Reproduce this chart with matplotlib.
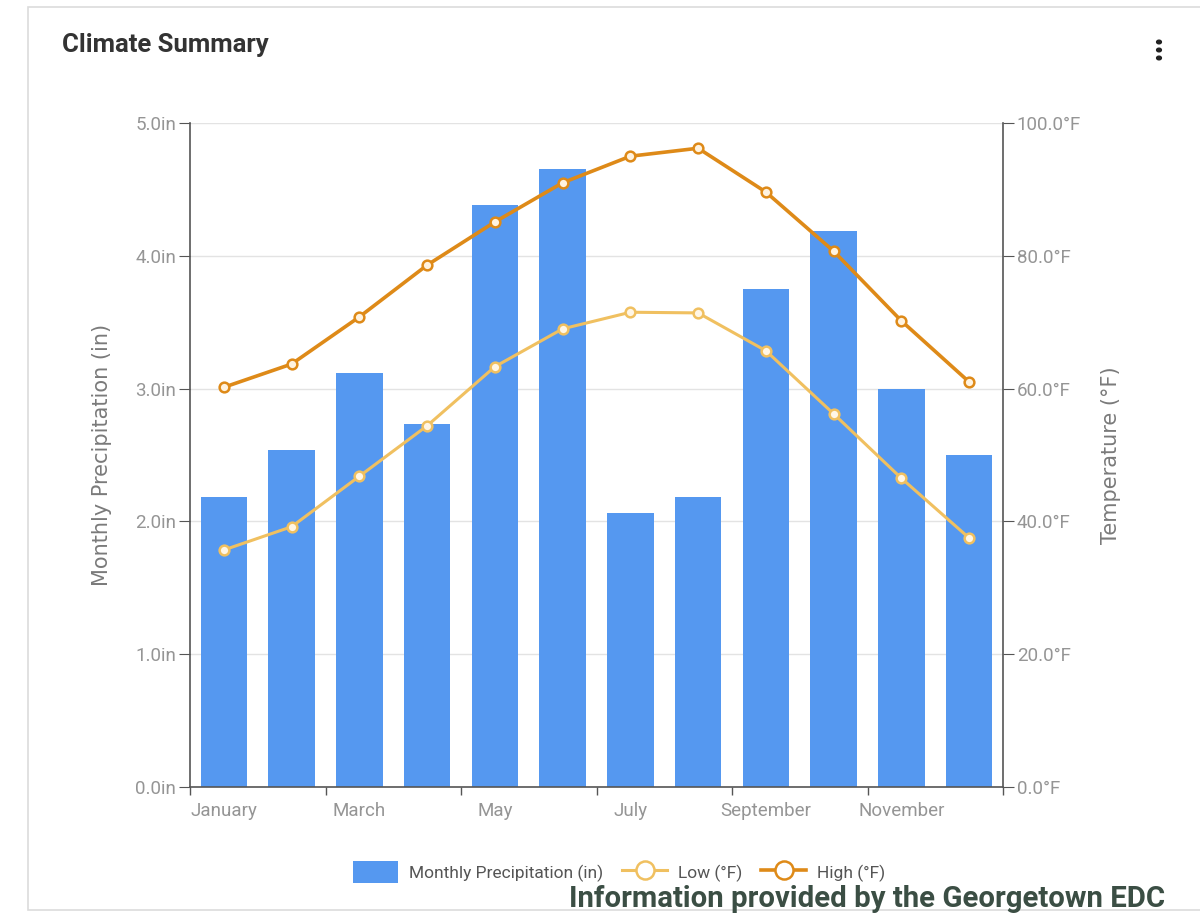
import matplotlib
matplotlib.use("Agg")
import matplotlib.pyplot as plt
from matplotlib.patches import Rectangle, Circle, Patch
from matplotlib.lines import Line2D
from matplotlib.font_manager import FontProperties
import numpy as np

months = ["January", "February", "March", "April", "May", "June", "July",
          "August", "September", "October", "November", "December"]
precip = [2.18, 2.54, 3.12, 2.73, 4.38, 4.65, 2.06, 2.18, 3.75, 4.19, 3.00, 2.50]
high_f = [60.2, 63.7, 70.8, 78.6, 85.1, 91.0, 95.0, 96.2, 89.6, 80.7, 70.2, 61.0]
low_f = [35.7, 39.2, 46.8, 54.4, 63.3, 69.0, 71.5, 71.4, 65.7, 56.2, 46.5, 37.5]
precip_ticks = [0.0, 1.0, 2.0, 3.0, 4.0, 5.0]
temp_ticks = [0.0, 20.0, 40.0, 60.0, 80.0, 100.0]

plt.rcParams['font.family'] = ['Roboto', 'DejaVu Sans']

W, H = 1200, 915
fig = plt.figure(figsize=(W / 100, H / 100), dpi=100)

# card border
fig.add_artist(Rectangle((28 / W, 1 - 910 / H), (1210 - 28) / W, (910 - 7) / H,
                         transform=fig.transFigure, facecolor='white',
                         edgecolor='#dcdcdc', linewidth=1.2, zorder=0))

ax = fig.add_axes([190 / W, 1 - 787 / H, (1003 - 190) / W, (787 - 123) / H])
ax.set_zorder(2)
x = np.arange(len(months))
ax.bar(x, precip, width=0.69, color='#5598F0', zorder=2)
ax.set_xlim(-0.5, len(months) - 0.5)
ax.set_ylim(0, 5)
ax.set_yticks(precip_ticks)
ax.set_yticklabels([f"{v:.1f}in" for v in precip_ticks])
ax.yaxis.grid(True, color='#e3e3e3', linewidth=1, zorder=0)
ax.set_axisbelow(True)

tick_fp = FontProperties(family=['Roboto', 'DejaVu Sans'], size=13.5)
tick_col = '#959595'

# x ticks at boundaries, labels every other month
ax.set_xticks(np.arange(-0.5, len(months), 2))
ax.set_xticklabels([])
ax.set_xticks(x[::2], minor=True)
ax.set_xticklabels(months[::2], minor=True)
for lbl in ax.get_xticklabels(minor=True):
    lbl.set_fontproperties(tick_fp)
ax.tick_params(axis='x', which='major', length=6, color='#555555', width=1)
ax.tick_params(axis='x', which='minor', length=0, pad=11, labelcolor=tick_col)
ax.tick_params(axis='y', length=8, color='#555555', labelcolor=tick_col, pad=2)
for lbl in ax.get_yticklabels():
    lbl.set_fontproperties(tick_fp)

for s in ['top', 'right']:
    ax.spines[s].set_visible(False)
for s in ['left', 'bottom']:
    ax.spines[s].set_color('#555555')
    ax.spines[s].set_linewidth(1.2)

ax.set_ylabel("Monthly Precipitation (in)", fontsize=15, color='#7a7a7a', labelpad=17,
              family=['DejaVu Sans'])

ax2 = ax.twinx()
ax2.set_zorder(3)
ax2.set_ylim(0, 100)
ax2.set_yticks(temp_ticks)
ax2.set_yticklabels([f"{v:.1f}°F" for v in temp_ticks])
ax2.tick_params(axis='y', length=8, color='#555555', labelcolor=tick_col, pad=2)
for lbl in ax2.get_yticklabels():
    lbl.set_fontproperties(tick_fp)
for s in ['top', 'left', 'bottom']:
    ax2.spines[s].set_visible(False)
ax2.spines['right'].set_color('#555555')
ax2.spines['right'].set_linewidth(1.2)
ax2.set_ylabel("Temperature (°F)", fontsize=15, color='#7a7a7a', labelpad=14,
               family=['DejaVu Sans'])

low_c = '#F0C060'
high_c = '#DE8A18'
ax2.plot(x, low_f, color=low_c, linewidth=2.2, marker='o', markersize=7,
         markerfacecolor='#fff6e6', markeredgecolor=low_c, markeredgewidth=1.8)
ax2.plot(x, high_f, color=high_c, linewidth=2.6, marker='o', markersize=7,
         markerfacecolor='#fff3e0', markeredgecolor=high_c, markeredgewidth=1.8)

# title
fig.text(62 / W, 1 - 45 / H, "Climate Summary", fontsize=18.5, fontweight='bold',
         color='#333333', va='center', ha='left')
# menu dots
for yy in (42, 50, 58):
    fig.add_artist(Circle((1159 / W, 1 - yy / H), 2.4 / W, transform=fig.transFigure,
                          color='#222222'))

# legend
handles = [
    Patch(facecolor='#5598F0', edgecolor='none'),
    Line2D([], [], color=low_c, linewidth=2.2, marker='o', markersize=13,
           markerfacecolor='white', markeredgecolor=low_c, markeredgewidth=1.8),
    Line2D([], [], color=high_c, linewidth=2.6, marker='o', markersize=13,
           markerfacecolor='white', markeredgecolor=high_c, markeredgewidth=1.8),
]
labels = ["Monthly Precipitation (in)", "Low (°F)", "High (°F)"]
fig.legend(handles, labels, loc='center', bbox_to_anchor=(619 / W, 1 - 872 / H),
           ncol=3, frameon=False, fontsize=12.5, handlelength=2.6, handleheight=1.5,
           columnspacing=1.1, handletextpad=0.6, labelcolor='#555555')

# footer
fig.text(1165 / W, 1 - 899 / H, "Information provided by the Georgetown EDC",
         fontsize=21.2, fontweight='bold', color='#3b4e44', ha='right', va='center')

fig.savefig("out.png", dpi=100)
